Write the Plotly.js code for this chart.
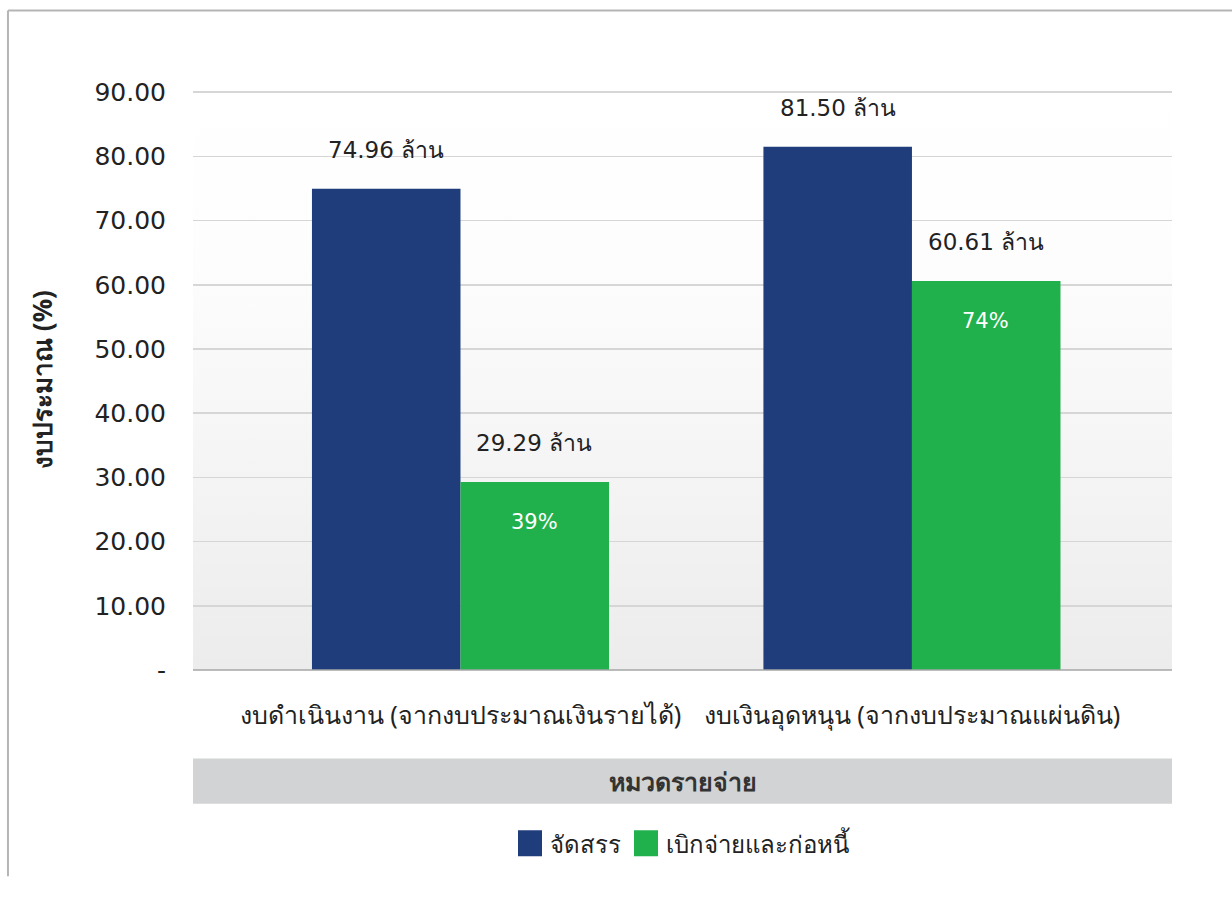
<!DOCTYPE html>
<html>
<head>
<meta charset="utf-8">
<script src="https://cdn.plot.ly/plotly-3.0.1.min.js"></script>
<style>html,body{margin:0;padding:0;background:#fff;}#chart{width:1232px;height:906px;}</style>
</head>
<body>
<div id="chart"></div>
<script>
// ---- data ----
const categories = ["งบดำเนินงาน (จากงบประมาณเงินรายได้)", "งบเงินอุดหนุน (จากงบประมาณแผ่นดิน)"];
const allocated = [74.96, 81.50];          // จัดสรร (ล้าน)
const spent = [29.29, 60.61];              // เบิกจ่ายและก่อหนี้ (ล้าน)
const spentPct = ["39%", "74%"];
const seriesNames = ["จัดสรร", "เบิกจ่ายและก่อหนี้"];
const yTickVals = [0, 10, 20, 30, 40, 50, 60, 70, 80, 90];
const yTickText = ["-", "10.00", "20.00", "30.00", "40.00", "50.00", "60.00", "70.00", "80.00", "90.00"];

const FONT = "DejaVu Sans, Noto Sans, sans-serif";
const TFONT = "Noto Sans, sans-serif";
const BLUE = "#1f3d7a";
const GREEN = "#21b14c";

const traces = [
  {type: "bar", name: seriesNames[0], x: categories, y: allocated, marker: {color: BLUE}, hoverinfo: "skip"},
  {type: "bar", name: seriesNames[1], x: categories, y: spent, marker: {color: GREEN}, hoverinfo: "skip"}
];

const annotations = [];
categories.forEach((c, i) => {
  annotations.push({x: c, y: allocated[i], xref: "x", yref: "y", xshift: -74, yshift: 39,
    text: allocated[i].toFixed(2) + " ล้าน", showarrow: false, font: {family: FONT, size: 23, color: "#222"}});
  annotations.push({x: c, y: spent[i], xref: "x", yref: "y", xshift: 74, yshift: 39,
    text: spent[i].toFixed(2) + " ล้าน", showarrow: false, font: {family: FONT, size: 23, color: "#222"}});
  annotations.push({x: c, y: spent[i], xref: "x", yref: "y", xshift: 74, yshift: -40,
    text: spentPct[i], showarrow: false, font: {family: FONT, size: 21, color: "#ffffff"}});
});
annotations.push({x: 0.5, y: -0.1903, xref: "paper", yref: "paper", yanchor: "middle", text: "<b>หมวดรายจ่าย</b>",
  showarrow: false, font: {family: TFONT, size: 25, color: "#333"}});

const grad = "<svg xmlns='http://www.w3.org/2000/svg' width='100' height='100' preserveAspectRatio='none'>" +
  "<defs><linearGradient id='g' x1='0' y1='0' x2='0' y2='1'><stop offset='0' stop-color='#ffffff'/>" +
  "<stop offset='0.3' stop-color='#fdfdfd'/><stop offset='1' stop-color='#ececec'/></linearGradient></defs>" +
  "<rect width='100' height='100' fill='url(#g)'/></svg>";

const layout = {
  width: 1232, height: 906,
  margin: {l: 193, r: 60, t: 89, b: 236},
  paper_bgcolor: "#ffffff",
  plot_bgcolor: "rgba(0,0,0,0)",
  barmode: "group",
  bargap: 0.342,
  bargroupgap: 0,
  font: {family: FONT, color: "#222"},
  showlegend: true,
  legend: {orientation: "h", x: 0.5, xanchor: "center", y: -0.299, yanchor: "middle",
    font: {family: TFONT, size: 24, color: "#222"}, traceorder: "normal"},
  xaxis: {
    type: "category",
    range: [-0.5925, 1.576],
    showgrid: false, zeroline: false,
    showline: false,
    ticks: "", ticklabelstandoff: 28,
    tickfont: {family: TFONT, size: 25, color: "#222"},
    fixedrange: true
  },
  yaxis: {
    range: [0, 90.5],
    tickvals: yTickVals, ticktext: yTickText,
    showgrid: true, gridcolor: "#d6d6d6", gridwidth: 1.5,
    zeroline: false, showline: false,
    ticks: "", ticklabelstandoff: 26,
    tickfont: {family: FONT, size: 25, color: "#222"},
    title: {text: "<b>งบประมาณ (%)</b>", standoff: 34, font: {family: TFONT, size: 26, color: "#222"}},
    fixedrange: true
  },
  images: [{source: "data:image/svg+xml;charset=utf-8," + encodeURIComponent(grad),
    xref: "paper", yref: "y", x: 0, y: 90, sizex: 1, sizey: 90, sizing: "stretch", layer: "below",
    xanchor: "left", yanchor: "top"}],
  shapes: [
    {type: "rect", xref: "paper", yref: "paper", x0: 0, x1: 1, y0: -0.2301, y1: -0.1522,
      fillcolor: "#d1d3d4", line: {width: 0}, layer: "below"},
    {type: "line", xref: "paper", yref: "paper", x0: 0, x1: 1, y0: 0, y1: 0,
      line: {color: "#a6a6a6", width: 1.5}},
    {type: "line", xref: "paper", yref: "paper", x0: -0.189, x1: 1.062, y0: 1.135, y1: 1.135,
      line: {color: "#b5b5b5", width: 2}},
    {type: "line", xref: "paper", yref: "paper", x0: -0.189, x1: -0.189, y0: 1.135, y1: -0.355,
      line: {color: "#b5b5b5", width: 2}}
  ],
  annotations: annotations
};

Plotly.newPlot("chart", traces, layout, {displayModeBar: false, staticPlot: true}).then(() => {
  document.querySelectorAll(".legendpoints path").forEach(p => p.setAttribute("d", "M12,13H-12V-13H12Z"));
});
</script>
</body>
</html>
